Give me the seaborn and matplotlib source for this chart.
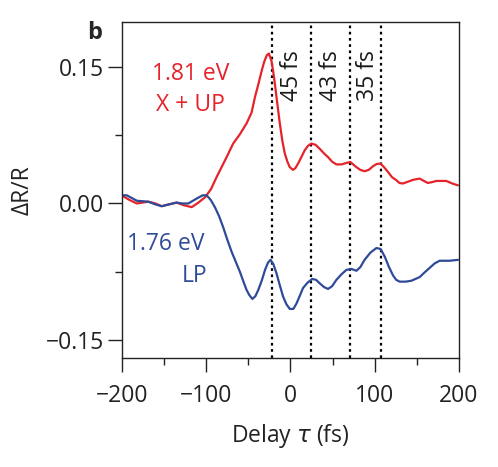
import numpy as np
import pandas as pd
import matplotlib
matplotlib.use("Agg")
import matplotlib.pyplot as plt
import seaborn as sns

# Data
red_x = [-200, -191, -182, -168.5, -160, -152.6, -144, -135, -126, -117, -109, -101, -94, -87.5, -81, -75.6, -67.8, -60, -52,
         -46, -42, -38, -34, -31, -28, -25.5, -22.4, -20.5, -18.4, -15.5, -12.5, -9.5, -6.6, -3.5, -0.7, 3.2, 6, 9.2, 13,
         17, 21, 25, 30, 35, 40, 44.7, 49.5, 54.6, 60.5, 66.5, 71, 74.5, 78.3, 83, 88, 93, 98, 102.5, 107,
         111, 115.8, 120.5, 125.7, 129.5, 133.5, 139.5, 145.4, 153.3, 158, 163, 168, 173, 179, 185, 192, 198.7]
red_y = [0.009, 0.004, 0.0, 0.002, 0.0, -0.003, -0.001, 0.001, -0.002, -0.004, 0.001, 0.007, 0.016, 0.029, 0.041, 0.051, 0.066, 0.076, 0.088,
         0.100, 0.117, 0.131, 0.146, 0.156, 0.163, 0.165, 0.157, 0.146, 0.132, 0.110, 0.088, 0.069, 0.055, 0.046, 0.040, 0.037, 0.039, 0.044, 0.051,
         0.0585, 0.0635, 0.066, 0.0645, 0.060, 0.055, 0.051, 0.046, 0.043, 0.043, 0.0446, 0.0457, 0.043, 0.040, 0.037, 0.0355, 0.037, 0.041, 0.0435, 0.0439,
         0.040, 0.0347, 0.029, 0.0256, 0.0225, 0.022, 0.024, 0.026, 0.0274, 0.025, 0.0226, 0.0235, 0.0248, 0.0248, 0.0248, 0.022, 0.020]

blue_x = [-200, -194, -188, -182, -168.5, -160, -152.6, -144, -135, -128, -121, -111, -104, -99.3, -94.5, -89.5, -84.5, -79.7, -74.7,
          -69.7, -64.8, -59.9, -56, -52, -48.5, -45, -41.5, -38, -34, -30, -26.5, -23.5, -20, -16.4, -12.5, -8.6, -4.6, -0.7,
          3.5, 7.3, 11, 15, 20.5, 26, 30.5, 35, 40, 44.7, 49.5, 54.6, 60.5, 66.5, 72.5, 78.3, 83, 88, 95, 102,
          107, 112, 117, 121.7, 125.5, 129.6, 136.5, 143.5, 153.3, 159, 165, 171, 177, 183, 189, 198.7]
blue_y = [0.009, 0.009, 0.006, 0.003, 0.002, -0.001, -0.003, -0.001, 0.001, 0.0, 0.0, 0.0055, 0.009, 0.009, 0.004, -0.004, -0.014, -0.026, -0.040,
          -0.053, -0.064, -0.075, -0.085, -0.095, -0.101, -0.105, -0.102, -0.095, -0.085, -0.073, -0.065, -0.062, -0.067, -0.077, -0.090, -0.1025, -0.111, -0.116,
          -0.116, -0.110, -0.102, -0.093, -0.087, -0.083, -0.084, -0.088, -0.092, -0.094, -0.091, -0.084, -0.078, -0.073, -0.072, -0.074, -0.070, -0.062, -0.054, -0.049,
          -0.050, -0.0586, -0.070, -0.079, -0.084, -0.086, -0.086, -0.085, -0.081, -0.076, -0.071, -0.066, -0.063, -0.063, -0.063, -0.062]

period_lines = [-22, 25, 71, 107]
period_labels = ["45 fs", "43 fs", "35 fs"]

x_ticks = [-200, -100, 0, 100, 200]
y_ticks = [-0.15, 0.0, 0.15]

RED = "#e5232b"
BLUE = "#2f4b98"
FS = 16.5

sns.set_style("ticks")
plt.rcParams["font.family"] = ["Open Sans", "DejaVu Sans"]
plt.rcParams["mathtext.fontset"] = "dejavusans"

df = pd.concat([
    pd.DataFrame({"t": red_x, "v": red_y, "s": "red"}),
    pd.DataFrame({"t": blue_x, "v": blue_y, "s": "blue"}),
])

fig = plt.figure(figsize=(4.98, 4.67), dpi=100)
ax = fig.add_axes([0.2444, 0.2334, 0.6773, 0.7201])

sns.lineplot(data=df, x="t", y="v", hue="s", palette={"red": RED, "blue": BLUE},
             sort=False, estimator=None, lw=1.6, legend=False, ax=ax,
             solid_joinstyle="round", solid_capstyle="round")

for xv in period_lines:
    ax.axvline(xv, color="black", lw=1.6, ls=(0, (1.2, 1.6)), zorder=1)

label_x = [1.7, 47.9, 91.7]
for xl, lab in zip(label_x, period_labels):
    ax.text(xl, 0.113, lab, rotation=90, rotation_mode="anchor", ha="left", va="center",
            fontsize=FS, color="#1a1a1a")

ax.text(-118, 0.143, "1.81 eV", color=RED, fontsize=FS, ha="center", va="center")
ax.text(-118, 0.108, "X + UP", color=RED, fontsize=FS, ha="center", va="center")
ax.text(-148, -0.045, "1.76 eV", color=BLUE, fontsize=FS, ha="center", va="center")
ax.text(-98, -0.080, "LP", color=BLUE, fontsize=FS, ha="right", va="center")

ax.set_xlim(-200, 200)
ax.set_ylim(-0.17, 0.2)
ax.set_xticks(x_ticks)
ax.set_xticklabels(["\u2212200", "\u2212100", "0", "100", "200"])
ax.set_yticks(y_ticks)
ax.set_yticklabels(["\u22120.15", "0.00", "0.15"])
ax.set_xticks([-150, -50, 50, 150], minor=True)
ax.set_yticks([-0.075, 0.075], minor=True)
ax.tick_params(which="major", direction="out", length=10, width=1, labelsize=FS, colors="#222222")
ax.tick_params(axis="x", which="major", pad=9)
ax.tick_params(axis="y", which="major", pad=3)
ax.tick_params(which="minor", direction="out", length=5, width=1, colors="#222222")
for sp in ax.spines.values():
    sp.set_visible(True)
    sp.set_linewidth(1.0)
    sp.set_color("#222222")

ax.set_xlabel(r"Delay $\tau$ (fs)", fontsize=FS, color="#222222", labelpad=10)
ax.set_ylabel("\u0394R/R", fontsize=FS, color="#222222", labelpad=8)

fig.text(0.19, 0.93, "b", fontsize=17, fontweight="bold", ha="center", va="center")

fig.savefig("out.png", dpi=100)
